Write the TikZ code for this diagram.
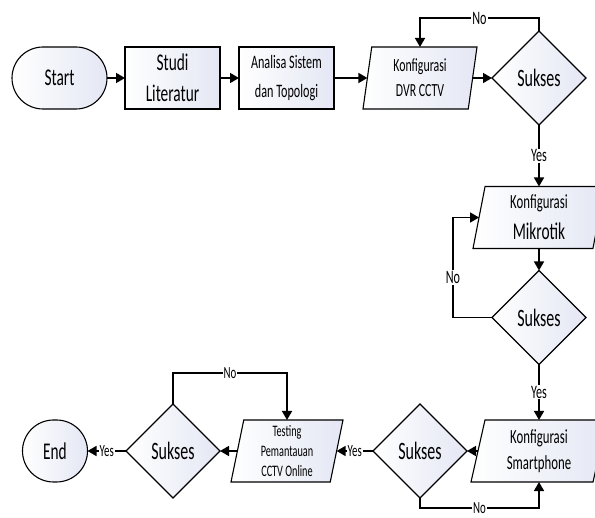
\documentclass[tikz,border=0pt]{standalone}
\usepackage{fontspec}
\setmainfont{Carlito}[FakeStretch=0.64]
\usetikzlibrary{shapes.geometric,shapes.misc,arrows.meta}
\definecolor{box shade}{RGB}{228,231,244}
\tikzset{
    x={1pt},
    y={-1pt},
    chart shape/.style={
        draw=black,
        line width={1.1pt},
        left color=white,
        right color=box shade,
        inner sep=0pt,
        outer sep=0pt,
        align=center,
    },
    terminal/.style={
        chart shape, rounded rectangle,
        minimum height={62},
        font={\fontsize{24}{29}\selectfont},
    },
    process/.style={
        chart shape, rectangle,
        minimum width={95},
        minimum height={62},
    },
    data/.style 2 args={
        chart shape, trapezium,
        trapezium stretches body,
        trapezium left angle={#1},
        trapezium right angle={#2},
        minimum height={62},
    },
    decision/.style={
        chart shape, diamond,
        minimum width={94},
        minimum height={94},
        font={\fontsize{25}{29}\selectfont},
    },
    flow/.style={
        draw,
        line width={1.6pt},
        -{Triangle[length=9pt,width=10pt]},
    },
    answer/.style={
        fill=white,
        inner sep=1pt,
        font={\fontsize{19}{22}\selectfont},
    },
    small answer/.style={
        answer,
        font={\fontsize{17}{20}\selectfont},
    },
}

\begin{document}
\begin{tikzpicture}
\useasboundingbox (0,0) rectangle (595,518);
% shapes
\node[terminal, minimum width={95}] (start) at (59.5,78) {Start};
\node[process, font={\fontsize{24}{31}\selectfont}] (studi) at (172.5,78) {Studi\\Literatur};
\node[process, font={\fontsize{19}{29}\selectfont}] (analisa) at (286.5,78) {Analisa Sistem\\dan Topologi};
\node[data={77}{103}, minimum width={114}, font={\fontsize{18.5}{25}\selectfont}] (dvr) at (420,78) {Konfigurasi\\DVR CCTV};
\node[decision] (sukses dvr) at (539,78) {Sukses};
\node[data={75}{105}, minimum width={132}, font={\fontsize{20}{31}\selectfont}] (mikrotik) at (539,217.5) {Konfigurasi\\{\fontsize{24}{31}\selectfont Mikrotik}};
\node[decision] (sukses mikrotik) at (539,317.5) {Sukses};
\node[data={72}{108}, minimum width={136}, font={\fontsize{20}{26}\selectfont}] (smartphone) at (539,451) {Konfigurasi\\Smartphone};
\node[decision] (sukses smartphone) at (420,451) {Sukses};
\node[data={76}{104}, minimum width={112}, font={\fontsize{16}{20}\selectfont}] (testing) at (287,451) {Testing\\Pemantauan\\CCTV Online};
\node[decision] (sukses testing) at (173,451) {Sukses};
\node[terminal, minimum width={65}] (end) at (55,451) {End};
% loop corners
\coordinate (no dvr) at (539,18);
\coordinate (no mikrotik) at (453,317.5);
\coordinate (no smartphone) at (420,508);
\coordinate (no testing) at (173,373);
% flow
\draw[flow] (start.east) -- (studi.west);
\draw[flow] (studi.east) -- (analisa.west);
\draw[flow] (analisa.east) -- (dvr.west);
\draw[flow] (dvr.east) -- (sukses dvr.west);
\draw[flow] (sukses dvr.north) -- (no dvr) -| node[answer, pos=0.25] {No} (dvr.north);
\draw[flow] (sukses dvr.south) -- node[answer] {Yes} (mikrotik.north);
\draw[flow] (mikrotik.south) -- (sukses mikrotik.north);
\draw[flow] (sukses mikrotik.west) -- (no mikrotik) |- node[answer, pos=0.2] {No} (mikrotik.west);
\draw[flow] (sukses mikrotik.south) -- node[answer] {Yes} (smartphone.north);
\draw[flow] (smartphone.west) -- (sukses smartphone.east);
\draw[flow] (sukses smartphone.south) -- (no smartphone) -| node[small answer, pos=0.25] {No} (smartphone.south);
\draw[flow] (sukses smartphone.west) -- node[small answer] {Yes} (testing.east);
\draw[flow] (testing.west) -- (sukses testing.east);
\draw[flow] (sukses testing.north) -- (no testing) -| node[small answer, pos=0.25] {No} (testing.north);
\draw[flow] (sukses testing.west) -- node[small answer] {Yes} (end.east);
\end{tikzpicture}
\end{document}
